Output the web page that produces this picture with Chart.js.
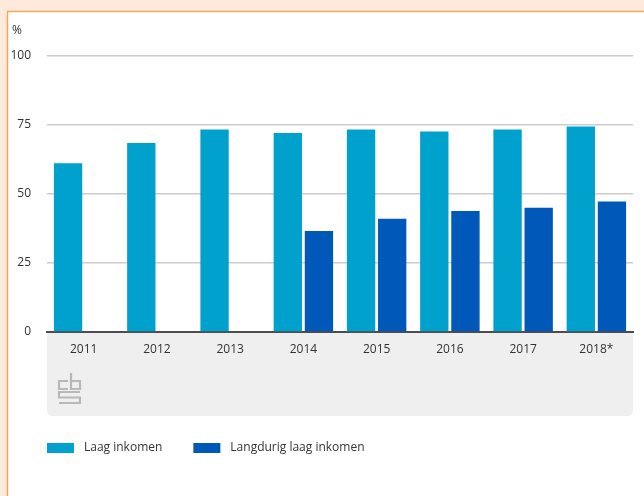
<!DOCTYPE html>
<html lang="nl">
<head>
  <meta charset="UTF-8" />
  <title>Laag inkomen</title>
  <script src="https://cdn.jsdelivr.net/npm/chart.js"></script>
  <style>
    html, body {
      margin: 0;
      padding: 0;
      background: #fdeadb;
    }
    #wrap {
      width: 644px;
      height: 496px;
      position: relative;
    }
  </style>
</head>
<body>
  <div id="wrap"><canvas id="chart" width="644" height="496"></canvas></div>

  <script>
    const years = ['2011', '2012', '2013', '2014', '2015', '2016', '2017', '2018*'];
    const laagInkomen = [61.1, 68.5, 73.4, 72.1, 73.4, 72.6, 73.4, 74.5];
    const langdurigLaagInkomen = [null, null, null, 36.6, 41.0, 43.8, 45.0, 47.3];
    const yTicks = [0, 25, 50, 75, 100];
    const seriesNames = ['Laag inkomen', 'Langdurig laag inkomen'];
    const seriesColors = ['#00a1cd', '#0058b8'];

    const FONT = '"Open Sans", "DejaVu Sans", sans-serif';

    // frame, grey band under the axis and the cbs mark
    const backdrop = {
      id: 'backdrop',
      beforeDraw(chart) {
        const ctx = chart.ctx;
        const a = chart.chartArea;
        ctx.save();
        ctx.fillStyle = '#fdeadb';
        ctx.fillRect(0, 0, chart.width, chart.height);
        ctx.fillStyle = '#ffffff';
        ctx.fillRect(8, 12, chart.width - 8, chart.height - 12);
        ctx.strokeStyle = '#f6a65c';
        ctx.lineWidth = 1.5;
        ctx.beginPath();
        ctx.moveTo(7.5, chart.height);
        ctx.lineTo(7.5, 11.5);
        ctx.lineTo(chart.width, 11.5);
        ctx.stroke();

        // grey band
        const bx = a.left, by = a.bottom, bw = a.right - a.left, bh = 84, r = 6;
        ctx.fillStyle = '#efefef';
        ctx.beginPath();
        ctx.moveTo(bx, by);
        ctx.lineTo(bx + bw, by);
        ctx.lineTo(bx + bw, by + bh - r);
        ctx.quadraticCurveTo(bx + bw, by + bh, bx + bw - r, by + bh);
        ctx.lineTo(bx + r, by + bh);
        ctx.quadraticCurveTo(bx, by + bh, bx, by + bh - r);
        ctx.closePath();
        ctx.fill();

        // cbs mark
        const lx = bx + 12, ly = by + 41;
        ctx.strokeStyle = '#b8b8b8';
        ctx.lineWidth = 2.2;
        ctx.beginPath();
        // c
        ctx.moveTo(lx + 9, ly + 8);
        ctx.lineTo(lx, ly + 8);
        ctx.lineTo(lx, ly + 16);
        ctx.lineTo(lx + 9, ly + 16);
        // b
        ctx.moveTo(lx + 12, ly);
        ctx.lineTo(lx + 12, ly + 16);
        ctx.lineTo(lx + 21, ly + 16);
        ctx.lineTo(lx + 21, ly + 8);
        ctx.lineTo(lx + 12, ly + 8);
        // s
        ctx.moveTo(lx + 21, ly + 19);
        ctx.lineTo(lx, ly + 19);
        ctx.lineTo(lx, ly + 24.5);
        ctx.lineTo(lx + 21, ly + 24.5);
        ctx.lineTo(lx + 21, ly + 30);
        ctx.lineTo(lx, ly + 30);
        ctx.stroke();
        ctx.restore();
      },
      afterDraw(chart) {
        const ctx = chart.ctx;
        ctx.save();
        // unit label
        ctx.fillStyle = '#333333';
        ctx.font = '12px ' + FONT;
        ctx.textBaseline = 'middle';
        ctx.textAlign = 'left';
        ctx.fillText('%', 12, 31);

        // legend
        let x = chart.chartArea.left;
        const y = 448;
        chart.data.datasets.forEach(ds => {
          ctx.fillStyle = ds.backgroundColor;
          ctx.fillRect(x, y - 5, 27, 10);
          ctx.fillStyle = '#333333';
          ctx.fillText(ds.label, x + 37, y);
          x += 37 + ctx.measureText(ds.label).width + 31;
        });
        ctx.restore();
      }
    };

    new Chart(document.getElementById('chart'), {
      type: 'bar',
      data: {
        labels: years,
        datasets: [
          {
            label: seriesNames[0],
            data: laagInkomen,
            backgroundColor: seriesColors[0],
            categoryPercentage: 0.85,
            barPercentage: 0.91
          },
          {
            label: seriesNames[1],
            data: langdurigLaagInkomen,
            backgroundColor: seriesColors[1],
            categoryPercentage: 0.85,
            barPercentage: 0.91
          }
        ]
      },
      options: {
        responsive: false,
        animation: false,
        layout: {
          padding: { left: 0, right: 11, top: 56, bottom: 134 }
        },
        plugins: {
          legend: { display: false },
          tooltip: { enabled: false }
        },
        scales: {
          x: {
            grid: { display: false, drawTicks: false },
            border: { color: '#4d4d4d', width: 2 },
            ticks: {
              color: '#333333',
              font: { family: FONT, size: 12 },
              padding: 10
            },
            afterFit(scale) { scale.height = 30; }
          },
          y: {
            min: 0,
            max: 100,
            afterBuildTicks(scale) {
              scale.ticks = yTicks.map(v => ({ value: v }));
            },
            grid: { color: '#cccccc', lineWidth: 1.5, drawTicks: false },
            border: { display: false },
            ticks: {
              color: '#333333',
              font: { family: FONT, size: 12 },
              padding: 16
            },
            afterFit(scale) { scale.width = 47; }
          }
        }
      },
      plugins: [backdrop]
    });
  </script>
</body>
</html>
